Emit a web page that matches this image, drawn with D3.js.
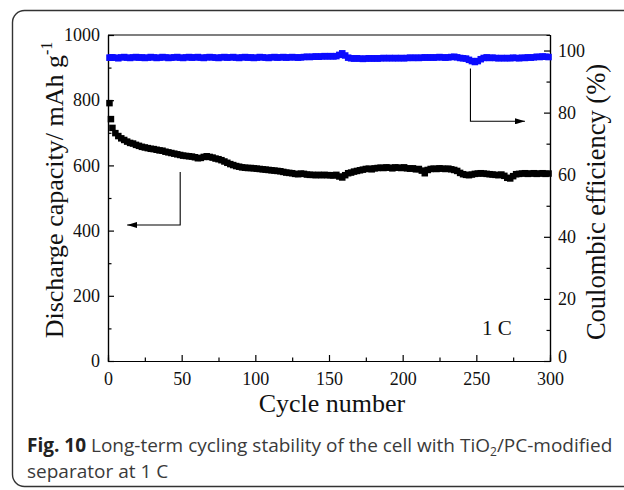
<!DOCTYPE html>
<html>
<head>
<meta charset="utf-8">
<script src="https://cdn.jsdelivr.net/npm/d3@7"></script>
<style>
  body { margin: 0; background: #fff; }
  svg { display: block; }
</style>
</head>
<body>
<div id="chart"></div>
<script>
// cycles: 1, 2, then every second cycle
const cycles = [1, 2].concat(d3.range(3, 301, 2))

// discharge capacity, mAh g-1
const capacity = [
  791, 742,
  715, 699, 690, 683, 678, 673, 669, 667, 663, 660, 657, 655, 653, 651,
  650, 648, 646, 645, 642, 640, 638, 636, 634, 632, 630, 629, 628, 627, 625,
  622, 623, 626, 628, 626, 624, 621, 619, 616, 612, 608, 604, 601, 598, 596,
  594, 593, 592, 592, 591, 590, 589, 588, 587, 586, 585, 584, 583, 582, 580,
  578, 577, 576, 574, 573, 575, 574, 572, 571, 571, 570, 571, 570, 571, 570,
  570, 569, 571, 566, 563, 570, 576, 578, 581, 583, 585, 587, 589, 590, 588,
  591, 592, 593, 592, 594, 593, 591, 594, 593, 592, 594, 591, 590, 591, 588,
  589, 584, 576, 586, 589, 590, 589, 591, 590, 589, 590, 588, 586, 583, 577,
  573, 571, 570, 572, 574, 575, 576, 575, 574, 573, 572, 571, 570, 572, 568,
  562, 560, 567, 573, 574, 575, 576, 574, 575, 576, 574, 575, 576, 574, 575
]

// coulombic efficiency, %
const efficiency = [
  97.7, 97.7,
  97.8, 97.7, 97.5, 97.8, 97.9, 97.7, 97.6, 97.8, 97.9, 97.7, 97.8, 97.6, 97.7, 97.9,
  97.8, 97.6, 97.7, 97.9, 97.8, 97.6, 97.7, 97.8, 97.9, 97.7, 97.6, 97.8, 97.9, 97.7, 97.8,
  97.9, 97.7, 97.6, 97.8, 97.9, 97.8, 97.7, 97.6, 97.8, 97.9, 97.7, 97.8, 97.9, 97.7, 97.6,
  97.8, 97.9, 97.7, 97.8, 97.6, 97.7, 97.9, 97.8, 97.7, 97.6, 97.8, 97.9, 97.7, 97.8, 97.9,
  97.7, 97.8, 97.9, 97.8, 97.7, 97.8, 97.9, 98.0, 97.9, 98.0, 98.1, 98.0, 98.1, 98.2, 98.1,
  98.2, 98.1, 98.2, 98.6, 99.1, 98.4, 97.7, 97.5, 97.4, 97.5, 97.4, 97.3, 97.4, 97.5, 97.4,
  97.5, 97.4, 97.5, 97.6, 97.5, 97.6, 97.5, 97.6, 97.5, 97.6, 97.5, 97.6, 97.7, 97.6, 97.7,
  97.6, 97.7, 97.8, 97.7, 97.8, 97.7, 97.8, 97.9, 97.8, 97.7, 97.8, 97.9, 98.0, 97.8, 97.6,
  97.5, 97.4, 97.0, 96.6, 96.3, 96.6, 97.2, 97.6, 97.8, 97.6, 97.7, 97.6, 97.5, 97.6, 97.5,
  97.6, 97.5, 97.7, 97.6, 97.5, 97.7, 97.6, 97.8, 97.7, 97.8, 98.0, 97.9, 98.1, 98.0, 97.9
]

const xTicks = [0, 50, 100, 150, 200, 250, 300]
const leftTicks = [0, 200, 400, 600, 800, 1000]
const rightTicks = [0, 20, 40, 60, 80, 100]

// arrows: [x, y] in data units along the path, last point gets the head
const leftArrow = [[49, 580], [49, 417], [13, 417]]
const rightArrow = [[246, 94.2], [246, 77.2], [283, 77.2]]

// Create SVG
const W = 624, H = 490
const margin = {top: 35, right: 74, bottom: 129, left: 108}
const width = W - margin.left - margin.right
const height = H - margin.top - margin.bottom

const svg = d3.select("#chart")
    .append("svg")
    .attr("width", W)
    .attr("height", H)

// figure frame
svg.append("rect")
    .attr("x", 12.5).attr("y", 10.5)
    .attr("width", 640).attr("height", 476)
    .attr("rx", 12).attr("ry", 12)
    .attr("fill", "none")
    .attr("stroke", "#333")
    .attr("stroke-width", 1.4)

const g = svg.append("g")
    .attr("transform", `translate(${margin.left}, ${margin.top})`)

const x = d3.scaleLinear().domain([0, 300]).range([0, width])
const yL = d3.scaleLinear().domain([0, 1000]).range([height, 0])
const yR = d3.scaleLinear().domain([0, 105]).range([height, 0])

const serif = "'Liberation Serif', 'Times New Roman', serif"
const fmt = d3.format("d")

function styleAxis(sel) {
    sel.selectAll("path").attr("stroke", "#000").attr("stroke-width", 1.2)
    sel.selectAll("line").attr("stroke", "#000").attr("stroke-width", 1.2)
    sel.selectAll("text")
        .attr("font-family", serif)
        .attr("font-size", 18)
        .attr("fill", "#111")
}

// minor ticks
g.append("g")
    .attr("transform", `translate(0, ${height})`)
    .call(d3.axisBottom(x).tickValues(d3.range(25, 300, 50)).tickSize(-3.5).tickFormat(""))
    .call(styleAxis)
g.append("g")
    .call(d3.axisLeft(yL).tickValues(d3.range(100, 1000, 200)).tickSize(-3.5).tickFormat(""))
    .call(styleAxis)
g.append("g")
    .attr("transform", `translate(${width}, 0)`)
    .call(d3.axisRight(yR).tickValues(d3.range(10, 105, 20)).tickSize(-3.5).tickFormat(""))
    .call(styleAxis)

// major axes
g.append("g")
    .attr("transform", `translate(0, ${height})`)
    .call(d3.axisBottom(x).tickValues(xTicks).tickFormat(fmt).tickSize(-6).tickSizeOuter(0).tickPadding(11))
    .call(styleAxis)
g.append("g")
    .call(d3.axisLeft(yL).tickValues(leftTicks).tickFormat(fmt).tickSize(-6).tickSizeOuter(0).tickPadding(8))
    .call(styleAxis)
const rAxis = g.append("g")
    .attr("transform", `translate(${width}, 0)`)
    .call(d3.axisRight(yR).tickValues(rightTicks).tickFormat(fmt).tickSize(-6).tickSizeOuter(0).tickPadding(8))
    .call(styleAxis)
// the 0 label sits a bit above the corner
rAxis.selectAll(".tick text").filter(d => d === 0).attr("dy", "0.1em")

// top border
g.append("line")
    .attr("x1", 0).attr("x2", width)
    .attr("y1", 0).attr("y2", 0)
    .attr("stroke", "#000").attr("stroke-width", 1.2)

// Draw markers
const s = 6.5
g.append("g").selectAll("rect")
    .data(cycles.map((c, i) => [c, efficiency[i]]))
    .enter()
    .append("rect")
    .attr("x", d => x(d[0]) - s / 2)
    .attr("y", d => yR(d[1]) - s / 2)
    .attr("width", s).attr("height", s)
    .attr("fill", "#0b0bff")

g.append("g").selectAll("rect")
    .data(cycles.map((c, i) => [c, capacity[i]]))
    .enter()
    .append("rect")
    .attr("x", d => x(d[0]) - s / 2)
    .attr("y", d => yL(d[1]) - s / 2)
    .attr("width", s).attr("height", s)
    .attr("fill", "#000")

// arrows
svg.append("defs").append("marker")
    .attr("id", "head")
    .attr("viewBox", "0 0 10 6")
    .attr("refX", 10).attr("refY", 3)
    .attr("markerWidth", 10).attr("markerHeight", 6)
    .attr("markerUnits", "userSpaceOnUse")
    .attr("orient", "auto")
    .append("path")
    .attr("d", "M0,0 L10,3 L0,6 Z")
    .attr("fill", "#000")

const line = d3.line()
g.append("path")
    .attr("d", line(leftArrow.map(d => [x(d[0]), yL(d[1])])))
    .attr("fill", "none").attr("stroke", "#000").attr("stroke-width", 1.1)
    .attr("marker-end", "url(#head)")
g.append("path")
    .attr("d", line(rightArrow.map(d => [x(d[0]), yR(d[1])])))
    .attr("fill", "none").attr("stroke", "#000").attr("stroke-width", 1.1)
    .attr("marker-end", "url(#head)")

// 1 C label
g.append("text")
    .attr("x", x(264))
    .attr("y", yL(80))
    .attr("text-anchor", "middle")
    .attr("font-family", serif)
    .attr("font-size", 21)
    .attr("fill", "#111")
    .text("1 C")

// axis titles
svg.append("text")
    .attr("x", margin.left + width / 2 + 3)
    .attr("y", 412)
    .attr("text-anchor", "middle")
    .attr("font-family", serif)
    .attr("font-size", 26)
    .attr("fill", "#111")
    .text("Cycle number")

const lt = svg.append("text")
    .attr("transform", `translate(63, 190) rotate(-90)`)
    .attr("text-anchor", "middle")
    .attr("font-family", serif)
    .attr("font-size", 26)
    .attr("fill", "#111")
lt.append("tspan").text("Discharge capacity/ mAh g")
lt.append("tspan").attr("font-size", 16).attr("dy", -11).text("-1")

svg.append("text")
    .attr("transform", `translate(605, 202) rotate(-90)`)
    .attr("text-anchor", "middle")
    .attr("font-family", serif)
    .attr("font-size", 26.5)
    .attr("fill", "#111")
    .text("Coulombic efficiency (%)")

// caption
const cap = svg.append("g")
    .attr("font-family", "'Open Sans', 'Noto Sans', sans-serif")
    .attr("font-size", 19)
    .attr("fill", "#3a3a3a")
const c1 = cap.append("text").attr("x", 27).attr("y", 452)
c1.append("tspan").attr("font-weight", "bold").attr("fill", "#222").text("Fig. 10")
c1.append("tspan").text(" Long-term cycling stability of the cell with TiO")
c1.append("tspan").attr("font-size", 12).attr("dy", 4).text("2")
c1.append("tspan").attr("dy", -4).text("/PC-modified")
cap.append("text").attr("x", 27).attr("y", 478).text("separator at 1 C")
</script>
</body>
</html>
